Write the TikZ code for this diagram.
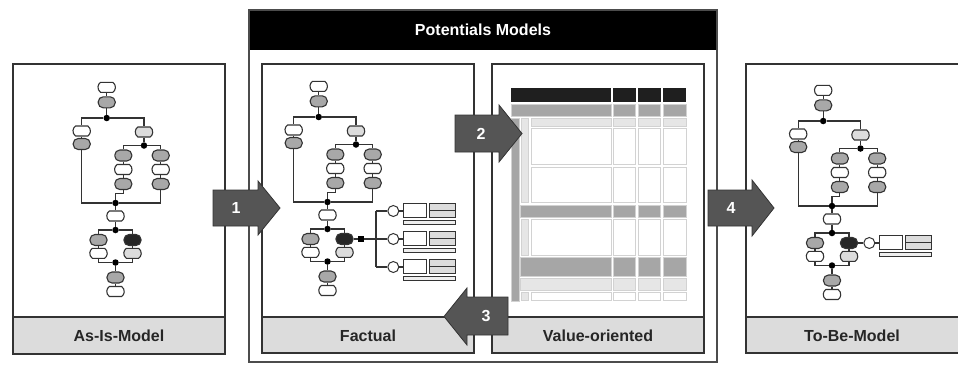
\documentclass[tikz,border=0pt]{standalone}
\usepackage{fontspec}
\setmainfont{Liberation Sans}
\usetikzlibrary{shapes.misc}
\definecolor{lc}{HTML}{333333}
\definecolor{midgray}{HTML}{A8A8A8}
\definecolor{lightfill}{HTML}{DCDCDC}
\definecolor{bandfill}{HTML}{DCDCDC}
\definecolor{barfill}{HTML}{EEEEEE}
\definecolor{arrowfill}{HTML}{555555}
\definecolor{cellline}{HTML}{D2D2D2}
\definecolor{cellgray}{HTML}{A6A6A6}
\definecolor{celllight}{HTML}{E6E6E6}

\tikzset{
  ev/.style={rounded rectangle, rounded rectangle arc length=110, draw=lc, line width=1.1pt,
    fill=white, minimum width=17.5pt, minimum height=10pt, inner sep=0pt},
  evl/.style={ev, fill=lightfill},
  fn/.style={rectangle, rounded corners=5pt, draw=lc, line width=1.1pt, fill=midgray,
    minimum width=17pt, minimum height=11pt, inner sep=0pt},
  fnb/.style={fn, fill=black!85},
  joint/.style={circle, fill=black, minimum size=6.5pt, inner sep=0pt},
  conn/.style={draw=lc, line width=1.2pt},
  circ/.style={circle, draw=lc, line width=1pt, fill=white, minimum size=11pt, inner sep=0pt},
  docw/.style={rectangle, draw=lc, line width=1pt, fill=white, minimum width=23pt,
    minimum height=14pt, inner sep=0pt, anchor=north west},
  docg/.style={docw, fill=lightfill, minimum width=26pt, minimum height=7pt},
  docbar/.style={docw, fill=barfill, minimum width=51.5pt, minimum height=4pt},
  sq/.style={rectangle, fill=black, minimum size=6pt, inner sep=0pt},
  boxline/.style={draw=lc, line width=1.4pt},
  bandfill/.style={fill=bandfill},
  lbl/.style={font=\bfseries\fontsize{16}{18}\selectfont, text=black!85},
  hdr/.style={font=\bfseries\fontsize{16}{18}\selectfont, text=white},
  num/.style={font=\bfseries\fontsize{16}{18}\selectfont, text=white},
  arr/.style={fill=arrowfill, draw=black!80, line width=0.8pt, line join=miter},
  cell/.style={draw=cellline, line width=1pt},
}

% process chain with all its nodes, prefixed by #1 and shifted by (#2,#3)
\newcommand{\epcmodel}[3]{%
\begin{scope}[shift={(#2,#3)}]
  \node[ev] (#1e1) at (106.7,87.3) {};
  \node[fn] (#1f1) at (106.7,102.3) {};
  \node[joint] (#1d1) at (106.7,118) {};
  \node[ev] (#1le) at (81.7,131) {};
  \node[fn] (#1lf) at (81.7,144) {};
  \node[evl] (#1re) at (144,132) {};
  \node[joint] (#1d2) at (144,145.5) {};
  \node[fn] (#1sa1) at (123.3,155.5) {};
  \node[ev] (#1sa2) at (123.3,169.5) {};
  \node[fn] (#1sa3) at (123.3,184) {};
  \node[fn] (#1sb1) at (160.7,155.5) {};
  \node[ev] (#1sb2) at (160.7,169.5) {};
  \node[fn] (#1sb3) at (160.7,184) {};
  \coordinate (#1st) at (115.5,193.5);
  \node[joint] (#1d3) at (115.5,203) {};
  \node[ev] (#1e2) at (115.5,216) {};
  \node[joint] (#1d4) at (115.5,230) {};
  \node[fn] (#1ca1) at (98.5,240) {};
  \node[ev] (#1ca2) at (98.5,253.3) {};
  \node[fnb] (#1cb1) at (132.5,240) {};
  \node[evl] (#1cb2) at (132.5,253.3) {};
  \node[joint] (#1d5) at (115.5,262.5) {};
  \node[fn] (#1f3) at (115.5,277.5) {};
  \node[ev] (#1e3) at (115.5,291.5) {};
  \draw[conn] (#1e1) -- (#1f1);
  \draw[conn] (#1f1) -- (#1d1);
  \draw[conn] (#1d1) -| (#1le);
  \draw[conn] (#1d1) -| (#1re);
  \draw[conn] (#1le) -- (#1lf);
  \draw[conn] (#1lf) |- (#1d3);
  \draw[conn] (#1re) -- (#1d2);
  \draw[conn] (#1d2) -| (#1sa1);
  \draw[conn] (#1d2) -| (#1sb1);
  \draw[conn] (#1sa1) -- (#1sa2);
  \draw[conn] (#1sa2) -- (#1sa3);
  \draw[conn] (#1sb1) -- (#1sb2);
  \draw[conn] (#1sb2) -- (#1sb3);
  \draw[conn] (#1sb3) |- (#1d3);
  \draw[conn] (#1sa3) |- (#1st) -- (#1d3);
  \draw[conn] (#1d3) -- (#1e2);
  \draw[conn] (#1e2) -- (#1d4);
  \draw[conn] (#1d4) -| (#1ca1);
  \draw[conn] (#1d4) -| (#1cb1);
  \draw[conn] (#1ca1) -- (#1ca2);
  \draw[conn] (#1cb1) -- (#1cb2);
  \draw[conn] (#1ca2) |- (#1d5);
  \draw[conn] (#1cb2) |- (#1d5);
  \draw[conn] (#1d5) -- (#1f3);
  \draw[conn] (#1f3) -- (#1e3);
\end{scope}}

% document symbol: circle, two fields and a bar, circle centred at (#2,#3)
\newcommand{\docset}[3]{%
  \node[circ] (#1c) at (#2,#3) {};
  \node[docw] (#1w) at (#2+10,#3-8) {};
  \node[docg] (#1g) at (#2+35.5,#3-8) {};
  \node[docg] (#1h) at (#2+35.5,#3-1) {};
  \node[docbar] (#1b) at (#2+10,#3+8.5) {};
  \draw[conn] (#1c) -- (#1c.east -| #1w.west);
}

\begin{document}
\begin{tikzpicture}[x=1pt,y=-1pt]
\useasboundingbox (0,0) rectangle (958,365);
\fill[white] (0,0) rectangle (958,365);

% frame of the potentials models
\fill[black] (249,10) rectangle (717,50);
\draw[draw=black!70, line width=1.2pt] (249,10) rectangle (717,362);
\node[hdr] (hdr) at (483,30) {Potentials Models};

% the four panels with their label bands
\fill[bandfill] (13,317) rectangle (225,354);
\draw[boxline] (13,317) -- (225,317);
\draw[boxline] (13,64) rectangle (225,354);
\fill[bandfill] (262,317) rectangle (474,353);
\draw[boxline] (262,317) -- (474,317);
\draw[boxline] (262,64) rectangle (474,353);
\fill[bandfill] (492,317) rectangle (704,353);
\draw[boxline] (492,317) -- (704,317);
\draw[boxline] (492,64) rectangle (704,353);
\fill[bandfill] (746,317) rectangle (958,353);
\draw[boxline] (746,317) -- (958,317);
\draw[boxline] (958,64) -- (746,64) -- (746,353) -- (958,353);

\node[lbl] (lasis) at (119,336) {As-Is-Model};
\node[lbl] (lfact) at (368,336) {Factual};
\node[lbl] (lval) at (598,336) {Value-oriented};
\node[lbl] (ltobe) at (852,336) {To-Be-Model};

% process chains
\epcmodel{a}{0}{0}
\epcmodel{f}{212}{-1}
\epcmodel{t}{716.5}{3}

% factual chain: documents attached to the dark function
\node[sq] (fsq) at (361,239) {};
\coordinate (fb1) at (376,211);
\coordinate (fb2) at (376,239);
\coordinate (fb3) at (376,267);
\draw[conn] (fcb1) -- (fsq);
\draw[conn] (fsq) -- (fb2);
\draw[conn] (fb1) -- (fb3);
\docset{fdA}{393.3}{211}
\docset{fdB}{393.3}{239}
\docset{fdC}{393.3}{267}
\draw[conn] (fb1) -- (fdAc);
\draw[conn] (fb2) -- (fdBc);
\draw[conn] (fb3) -- (fdCc);

% to-be chain: one document
\docset{tdA}{869.3}{243}
\draw[conn] (tcb1) -- (tdAc);

% value-oriented table
\foreach \xa/\xb in {511/611, 613.3/635.7, 638.3/660.7, 663.3/686} {
  \fill[black!88] (\xa,88) rectangle (\xb,102);
  \filldraw[cell, fill=cellgray] (\xa,104.3) rectangle (\xb,116.3);
}
\foreach \xa/\xb in {531/611, 613.3/635.7, 638.3/660.7, 663.3/686} {
  \filldraw[cell, fill=celllight] (\xa,118.7) rectangle (\xb,126.3);
  \filldraw[cell, fill=white] (\xa,128.7) rectangle (\xb,164.3);
  \filldraw[cell, fill=white] (\xa,167) rectangle (\xb,202.5);
  \filldraw[cell, fill=white] (\xa,219) rectangle (\xb,255);
  \filldraw[cell, fill=white] (\xa,292.3) rectangle (\xb,300);
}
\foreach \xa/\xb in {520.7/611, 613.3/635.7, 638.3/660.7, 663.3/686} {
  \filldraw[cell, fill=cellgray] (\xa,205) rectangle (\xb,217.3);
  \filldraw[cell, fill=cellgray] (\xa,257.3) rectangle (\xb,276);
  \filldraw[cell, fill=celllight] (\xa,278.3) rectangle (\xb,290);
}
\filldraw[cell, fill=cellgray] (511,118) rectangle (519.3,301);
\foreach \ya/\yb in {118.7/202.5, 219/255, 292.3/300} {
  \filldraw[cell, fill=celllight] (521,\ya) rectangle (528.5,\yb);
}

% numbered step arrows
\draw[arr] (213,190) -- (258,190) -- (258,181) -- (280,208) -- (258,235) -- (258,226) -- (213,226) -- cycle;
\node[num] (n1) at (236,208) {1};
\draw[arr] (455,115) -- (499,115) -- (499,105) -- (522,133.5) -- (499,162) -- (499,152) -- (455,152) -- cycle;
\node[num] (n2) at (481,133.5) {2};
\draw[arr] (508,297) -- (467,297) -- (467,288) -- (444,316.5) -- (467,345) -- (467,335) -- (508,335) -- cycle;
\node[num] (n3) at (486,316) {3};
\draw[arr] (708,190) -- (752,190) -- (752,180) -- (774,208) -- (752,236) -- (752,226) -- (708,226) -- cycle;
\node[num] (n4) at (731,208) {4};
\end{tikzpicture}
\end{document}
